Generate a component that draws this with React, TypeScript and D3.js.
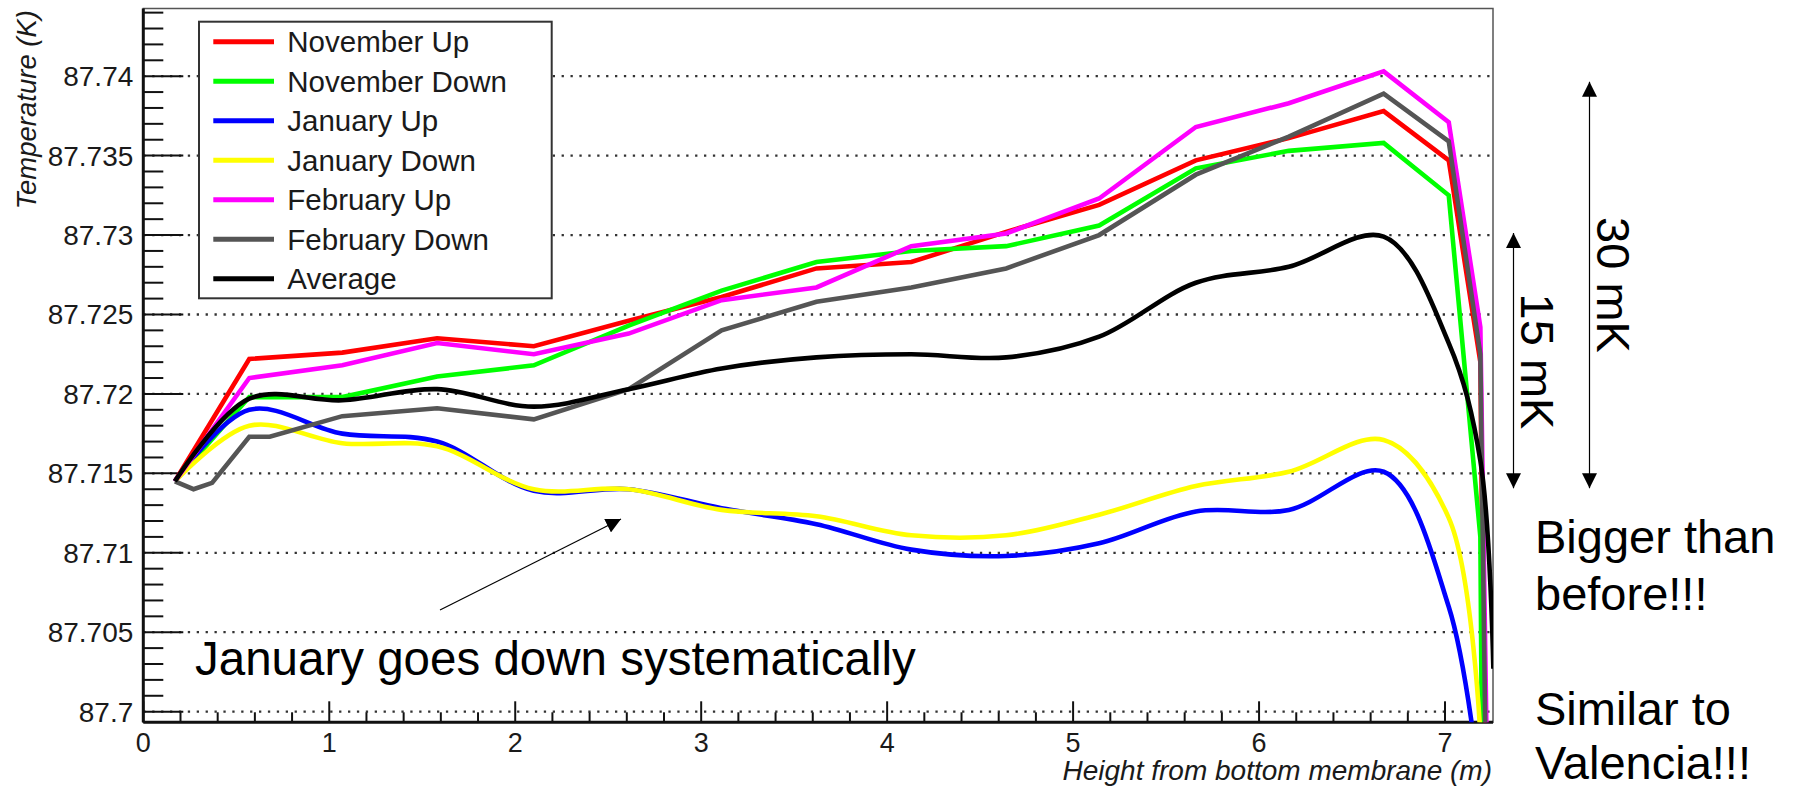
import React from "react";
import * as d3 from "d3";

// ---------- data ----------
const HEIGHTS = [0.17, 0.57, 1.07, 1.58, 2.1, 2.61, 3.11, 3.62, 4.13, 4.64, 5.14, 5.66, 6.16, 6.67, 7.02, 7.19, 7.26];
const JAN_HEIGHTS = [0.17, 0.57, 1.07, 1.58, 2.1, 2.61, 3.11, 3.62, 4.13, 4.64, 5.14, 5.66, 6.16, 6.67, 7.02, 7.19];
const FEB_DOWN_HEIGHTS = [0.17, 0.27, 0.37, 0.57, 0.68, 1.07, 1.58, 2.1, 2.61, 3.11, 3.62, 4.13, 4.64, 5.14, 5.66, 6.16, 6.67, 7.02, 7.19, 7.26];

const novemberUp = [87.7145, 87.7222, 87.7226, 87.7235, 87.723, 87.7246, 87.7261, 87.7279, 87.7283, 87.7302, 87.7319, 87.7347, 87.7361, 87.7378, 87.7347, 87.722, 87.64];
const novemberDown = [87.7145, 87.7198, 87.7198, 87.7211, 87.7218, 87.7243, 87.7265, 87.7283, 87.729, 87.7293, 87.7306, 87.7342, 87.7353, 87.7358, 87.7325, 87.711, 87.6];
const januaryUp = [87.7145, 87.719, 87.7175, 87.717, 87.7139, 87.714, 87.7128, 87.7118, 87.7102, 87.7098, 87.7106, 87.7126, 87.7127, 87.7151, 87.7066, 87.695];
const januaryDown = [87.7145, 87.718, 87.7169, 87.7167, 87.714, 87.714, 87.7127, 87.7123, 87.7111, 87.7111, 87.7124, 87.7142, 87.7151, 87.7171, 87.7122, 87.6985];
const februaryUp = [87.7145, 87.721, 87.7218, 87.7232, 87.7225, 87.7238, 87.7259, 87.7267, 87.7293, 87.7301, 87.7323, 87.7368, 87.7383, 87.7403, 87.7371, 87.7242, 87.67];
const februaryDown = [87.7145, 87.714, 87.7144, 87.7173, 87.7173, 87.7186, 87.7191, 87.7184, 87.7203, 87.724, 87.7258, 87.7267, 87.7279, 87.73, 87.7338, 87.7362, 87.7389, 87.7359, 87.7225, 87.66];
const average = [87.7145, 87.7197, 87.7196, 87.7203, 87.7192, 87.7203, 87.7216, 87.7223, 87.7225, 87.7223, 87.7236, 87.727, 87.728, 87.7299, 87.7232, 87.7158, 87.7027];

const SERIES_NAMES = ["November Up", "November Down", "January Up", "January Down", "February Up", "February Down", "Average"];
const SERIES_COLORS = ["#ff0000", "#00ff00", "#0000ff", "#ffff00", "#ff00ff", "#555555", "#000000"];

const Y_TICK_VALUES = [87.7, 87.705, 87.71, 87.715, 87.72, 87.725, 87.73, 87.735, 87.74];
const Y_TICK_LABELS = ["87.7", "87.705", "87.71", "87.715", "87.72", "87.725", "87.73", "87.735", "87.74"];
const X_TICK_VALUES = [0, 1, 2, 3, 4, 5, 6, 7];
const X_TICK_LABELS = ["0", "1", "2", "3", "4", "5", "6", "7"];

const X_DOMAIN = [0, 7.258];
const Y_DOMAIN = [87.69933, 87.74426];

// ---------- layout ----------
const W = 1799;
const H = 788;
const FRAME = { left: 143.3, right: 1493, top: 8.5, bottom: 722.3 };
const FONT = "'Liberation Sans', Arial, Helvetica, sans-serif";

export default function App() {
  const x = d3.scaleLinear().domain(X_DOMAIN).range([FRAME.left, FRAME.right]);
  const y = d3.scaleLinear().domain(Y_DOMAIN).range([FRAME.bottom, FRAME.top]);

  const straight = d3
    .line<[number, number]>()
    .x((d) => x(d[0]))
    .y((d) => y(d[1]));
  const smooth = d3
    .line<[number, number]>()
    .x((d) => x(d[0]))
    .y((d) => y(d[1]))
    .curve(d3.curveCatmullRom.alpha(0.5));

  const zip = (xs: number[], ys: number[]) => ys.map((v, i) => [xs[i], v] as [number, number]);

  const series = [
    { xs: HEIGHTS, ys: novemberUp, smooth: false },
    { xs: HEIGHTS, ys: novemberDown, smooth: false },
    { xs: JAN_HEIGHTS, ys: januaryUp, smooth: true },
    { xs: JAN_HEIGHTS, ys: januaryDown, smooth: true },
    { xs: HEIGHTS, ys: februaryUp, smooth: false },
    { xs: FEB_DOWN_HEIGHTS, ys: februaryDown, smooth: false },
    { xs: HEIGHTS, ys: average, smooth: true },
  ];

  const yMinor = d3.range(0, 45).map((i) => 87.7 + i * 0.001).filter((v) => v <= Y_DOMAIN[1]);
  const xMinor = d3.range(0, 37).map((i) => i * 0.2).filter((v) => v <= X_DOMAIN[1]);

  const legendX = 199;
  const legendY = 21.7;
  const legendW = 352.7;
  const legendH = 276.6;
  const legendRow0 = 41.7;
  const legendStep = 39.5;

  return (
    <div style={{ position: "absolute", left: 0, top: 0, width: W, height: H, background: "#fff" }}>
      <svg width={W} height={H} viewBox={`0 0 ${W} ${H}`} style={{ display: "block", fontFamily: FONT }}>
        <defs>
          <clipPath id="plotClip">
            <rect x={FRAME.left} y={FRAME.top} width={FRAME.right - FRAME.left} height={FRAME.bottom - FRAME.top} />
          </clipPath>
          <marker id="arrowHead" viewBox="0 0 10 10" refX="10" refY="5" markerWidth="15" markerHeight="15" markerUnits="userSpaceOnUse" orient="auto-start-reverse">
            <path d="M0,0 L10,5 L0,10 Z" fill="#000" />
          </marker>
        </defs>

        <rect x={0} y={0} width={W} height={H} fill="#fff" />

        {/* grid lines */}
        {Y_TICK_VALUES.map((v) => (
          <line key={"g" + v} x1={FRAME.left} x2={FRAME.right} y1={y(v)} y2={y(v)} stroke="#333" strokeWidth={2.3} strokeDasharray="2.3 6.6" />
        ))}

        {/* frame */}
        <rect x={FRAME.left} y={FRAME.top} width={FRAME.right - FRAME.left} height={FRAME.bottom - FRAME.top} fill="none" stroke="#555" strokeWidth={1.5} />

        {/* y ticks */}
        {yMinor.map((v, i) => {
          const major = Math.abs(((v - 87.7) / 0.005) - Math.round((v - 87.7) / 0.005)) < 1e-6;
          return <line key={"yt" + i} x1={FRAME.left} x2={FRAME.left + (major ? 40 : 20)} y1={y(v)} y2={y(v)} stroke="#111" strokeWidth={2} />;
        })}
        {/* x ticks */}
        {xMinor.map((v, i) => {
          const major = Math.abs(v - Math.round(v)) < 1e-6;
          return <line key={"xt" + i} x1={x(v)} x2={x(v)} y1={FRAME.bottom} y2={FRAME.bottom - (major ? 21 : 10)} stroke="#111" strokeWidth={2} />;
        })}

        {/* axes lines */}
        <line x1={FRAME.left} x2={FRAME.left} y1={FRAME.top} y2={FRAME.bottom} stroke="#111" strokeWidth={3} />
        <line x1={FRAME.left} x2={FRAME.right} y1={FRAME.bottom} y2={FRAME.bottom} stroke="#111" strokeWidth={3} />

        {/* tick labels */}
        {Y_TICK_VALUES.map((v, i) => (
          <text key={"yl" + v} x={133.3} y={y(v) + 10} textAnchor="end" fontSize={28} fill="#1a1a1a">
            {Y_TICK_LABELS[i]}
          </text>
        ))}
        {X_TICK_VALUES.map((v, i) => (
          <text key={"xl" + v} x={x(v)} y={751.7} textAnchor="middle" fontSize={27} fill="#1a1a1a">
            {X_TICK_LABELS[i]}
          </text>
        ))}

        {/* axis titles */}
        <text x={1492} y={780} textAnchor="end" fontSize={28} fontStyle="italic" fill="#1a1a1a">
          Height from bottom membrane (m)
        </text>
        <text transform="translate(35.5,10) rotate(-90)" textAnchor="end" fontSize={27.5} fontStyle="italic" fill="#1a1a1a">
          Temperature (K)
        </text>

        {/* series */}
        <g clipPath="url(#plotClip)">
          {series.map((s, i) => (
            <path
              key={"s" + i}
              d={(s.smooth ? smooth : straight)(zip(s.xs, s.ys)) || ""}
              fill="none"
              stroke={SERIES_COLORS[i]}
              strokeWidth={4.6}
              strokeLinejoin="miter"
              strokeMiterlimit={3}
            />
          ))}
        </g>

        {/* legend */}
        <rect x={legendX} y={legendY} width={legendW} height={legendH} fill="#fff" stroke="#333" strokeWidth={2} />
        {SERIES_NAMES.map((name, i) => {
          const ly = legendRow0 + i * legendStep;
          return (
            <g key={"lg" + i}>
              <line x1={213.3} x2={274} y1={ly} y2={ly} stroke={SERIES_COLORS[i]} strokeWidth={5} />
              <text x={287.3} y={ly + 10.5} fontSize={29.5} fill="#1a1a1a">
                {name}
              </text>
            </g>
          );
        })}

        {/* annotations */}
        <line x1={440} y1={610} x2={621} y2={519} stroke="#000" strokeWidth={1.2} markerEnd="url(#arrowHead)" />
        <text x={195} y={675} fontSize={47.5} fill="#000">
          January goes down systematically
        </text>

        <line x1={1513.5} x2={1513.5} y1={233} y2={488.3} stroke="#000" strokeWidth={1.2} markerStart="url(#arrowHead)" markerEnd="url(#arrowHead)" />
        <line x1={1589.5} x2={1589.5} y1={81.7} y2={488.3} stroke="#000" strokeWidth={1.2} markerStart="url(#arrowHead)" markerEnd="url(#arrowHead)" />
        <text transform="translate(1521,361.5) rotate(90)" textAnchor="middle" fontSize={47} fill="#000">
          15 mK
        </text>
        <text transform="translate(1597,285) rotate(90)" textAnchor="middle" fontSize={47} fill="#000">
          30 mK
        </text>

        <text x={1535} y={553.3} fontSize={47} fill="#000">
          Bigger than
        </text>
        <text x={1535} y={610} fontSize={47} fill="#000">
          before!!!
        </text>
        <text x={1535} y={725} fontSize={47} fill="#000">
          Similar to
        </text>
        <text x={1535} y={779} fontSize={47} fill="#000">
          Valencia!!!
        </text>
      </svg>
    </div>
  );
}
